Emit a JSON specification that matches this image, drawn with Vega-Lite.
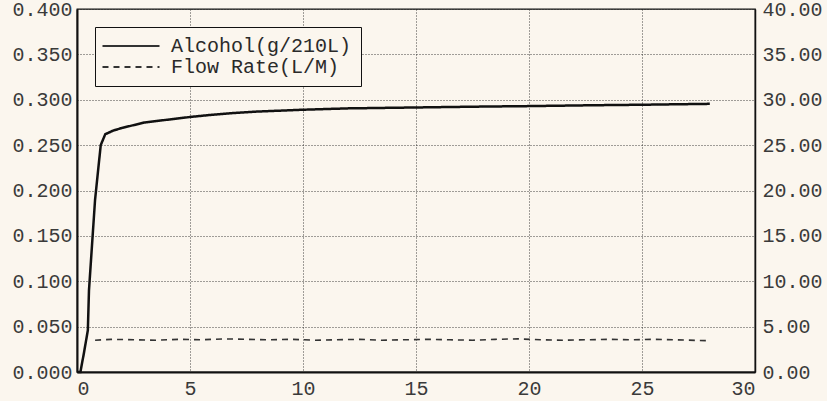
{
  "$schema": "https://vega.github.io/schema/vega-lite/v6.json",
  "autosize": {"type": "none"},
  "width": 678,
  "height": 363,
  "padding": {"left": 77, "top": 9, "right": 72, "bottom": 29},
  "background": "#fbf6ee",
  "config": {
    "view": {"stroke": "#111", "strokeWidth": 1.3, "fill": "#fbf6ee"},
    "axis": {
      "labelFont": "Liberation Mono",
      "labelFontSize": 20,
      "labelColor": "#3a3a3a",
      "ticks": false,
      "gridColor": "#222",
      "gridDash": [1, 2],
      "gridWidth": 1,
      "gridOpacity": 0.85,
      "domainColor": "#111",
      "domainWidth": 2,
      "title": null
    },
    "legend": {
      "labelFont": "Liberation Mono",
      "labelFontSize": 20,
      "labelColor": "#2a2a2a"
    }
  },
  "datasets": {
    "alcohol": [
      {"t": 0, "v": 0, "series": "Alcohol(g/210L)"},
      {"t": 0.15, "v": 0, "series": "Alcohol(g/210L)"},
      {"t": 0.3, "v": 0.02, "series": "Alcohol(g/210L)"},
      {"t": 0.48, "v": 0.046, "series": "Alcohol(g/210L)"},
      {"t": 0.53, "v": 0.09, "series": "Alcohol(g/210L)"},
      {"t": 0.8, "v": 0.19, "series": "Alcohol(g/210L)"},
      {"t": 1.05, "v": 0.25, "series": "Alcohol(g/210L)"},
      {"t": 1.25, "v": 0.262, "series": "Alcohol(g/210L)"},
      {"t": 1.6, "v": 0.266, "series": "Alcohol(g/210L)"},
      {"t": 2, "v": 0.269, "series": "Alcohol(g/210L)"},
      {"t": 2.5, "v": 0.272, "series": "Alcohol(g/210L)"},
      {"t": 3, "v": 0.275, "series": "Alcohol(g/210L)"},
      {"t": 4, "v": 0.278, "series": "Alcohol(g/210L)"},
      {"t": 5, "v": 0.281, "series": "Alcohol(g/210L)"},
      {"t": 6, "v": 0.2835, "series": "Alcohol(g/210L)"},
      {"t": 7, "v": 0.2855, "series": "Alcohol(g/210L)"},
      {"t": 8, "v": 0.287, "series": "Alcohol(g/210L)"},
      {"t": 10, "v": 0.289, "series": "Alcohol(g/210L)"},
      {"t": 12, "v": 0.2905, "series": "Alcohol(g/210L)"},
      {"t": 15, "v": 0.2915, "series": "Alcohol(g/210L)"},
      {"t": 18, "v": 0.2925, "series": "Alcohol(g/210L)"},
      {"t": 20, "v": 0.293, "series": "Alcohol(g/210L)"},
      {"t": 23, "v": 0.294, "series": "Alcohol(g/210L)"},
      {"t": 25, "v": 0.2945, "series": "Alcohol(g/210L)"},
      {"t": 28, "v": 0.2955, "series": "Alcohol(g/210L)"}
    ],
    "flow": [
      {"t": 0.8, "v": 3.5, "series": "Flow Rate(L/M)"},
      {"t": 1.5, "v": 3.6, "series": "Flow Rate(L/M)"},
      {"t": 2.5, "v": 3.55, "series": "Flow Rate(L/M)"},
      {"t": 3.5, "v": 3.5, "series": "Flow Rate(L/M)"},
      {"t": 4.5, "v": 3.6, "series": "Flow Rate(L/M)"},
      {"t": 5.5, "v": 3.55, "series": "Flow Rate(L/M)"},
      {"t": 6.5, "v": 3.65, "series": "Flow Rate(L/M)"},
      {"t": 7.5, "v": 3.6, "series": "Flow Rate(L/M)"},
      {"t": 8.5, "v": 3.55, "series": "Flow Rate(L/M)"},
      {"t": 9.5, "v": 3.6, "series": "Flow Rate(L/M)"},
      {"t": 10.5, "v": 3.5, "series": "Flow Rate(L/M)"},
      {"t": 11.5, "v": 3.55, "series": "Flow Rate(L/M)"},
      {"t": 12.5, "v": 3.6, "series": "Flow Rate(L/M)"},
      {"t": 13.5, "v": 3.5, "series": "Flow Rate(L/M)"},
      {"t": 14.5, "v": 3.55, "series": "Flow Rate(L/M)"},
      {"t": 15.5, "v": 3.6, "series": "Flow Rate(L/M)"},
      {"t": 16.5, "v": 3.55, "series": "Flow Rate(L/M)"},
      {"t": 17.5, "v": 3.5, "series": "Flow Rate(L/M)"},
      {"t": 18.5, "v": 3.6, "series": "Flow Rate(L/M)"},
      {"t": 19.5, "v": 3.65, "series": "Flow Rate(L/M)"},
      {"t": 20.5, "v": 3.55, "series": "Flow Rate(L/M)"},
      {"t": 21.5, "v": 3.5, "series": "Flow Rate(L/M)"},
      {"t": 22.5, "v": 3.55, "series": "Flow Rate(L/M)"},
      {"t": 23.5, "v": 3.6, "series": "Flow Rate(L/M)"},
      {"t": 24.5, "v": 3.55, "series": "Flow Rate(L/M)"},
      {"t": 25.5, "v": 3.6, "series": "Flow Rate(L/M)"},
      {"t": 26.5, "v": 3.55, "series": "Flow Rate(L/M)"},
      {"t": 27.9, "v": 3.45, "series": "Flow Rate(L/M)"}
    ]
  },
  "encoding": {
    "x": {
      "field": "t",
      "type": "quantitative",
      "scale": {"domain": [0, 30], "nice": false},
      "axis": {"values": [0, 5, 10, 15, 20, 25, 30], "format": "d", "labelPadding": 6}
    }
  },
  "layer": [
    {
      "data": {"name": "alcohol"},
      "mark": {"type": "line", "color": "#111", "strokeWidth": 2.5},
      "encoding": {
        "y": {
          "field": "v",
          "type": "quantitative",
          "scale": {"domain": [0, 0.4], "nice": false},
          "axis": {"orient": "left", "values": [0, 0.05, 0.1, 0.15, 0.2, 0.25, 0.3, 0.35, 0.4], "format": ".3f", "labelPadding": 5}
        },
        "strokeDash": {
          "field": "series",
          "type": "nominal",
          "scale": {"domain": ["Alcohol(g/210L)", "Flow Rate(L/M)"], "range": [[1, 0], [6, 5]]},
          "legend": {
            "title": null,
            "orient": "none",
            "legendX": 18,
            "legendY": 18,
            "fillColor": "#fbf6ee",
            "strokeColor": "#111",
            "padding": 9,
            "symbolType": "M-5,0L5,0",
            "symbolSize": 130,
            "symbolOffset": 17,
            "symbolStrokeWidth": 2,
            "symbolStrokeColor": "#111",
            "labelOffset": 30,
            "labelLimit": 0,
            "rowPadding": 1
          }
        }
      }
    },
    {
      "data": {"name": "flow"},
      "mark": {"type": "line", "color": "#333", "strokeWidth": 1.6},
      "encoding": {
        "y": {
          "field": "v",
          "type": "quantitative",
          "scale": {"domain": [0, 40], "nice": false},
          "axis": {"orient": "right", "grid": false, "values": [0, 5, 10, 15, 20, 25, 30, 35, 40], "format": ".2f", "labelPadding": 7, "domainWidth": 1.5}
        },
        "strokeDash": {
          "field": "series",
          "type": "nominal",
          "scale": {"domain": ["Alcohol(g/210L)", "Flow Rate(L/M)"], "range": [[1, 0], [6, 5]]}
        }
      }
    }
  ],
  "resolve": {"scale": {"y": "independent"}}
}
